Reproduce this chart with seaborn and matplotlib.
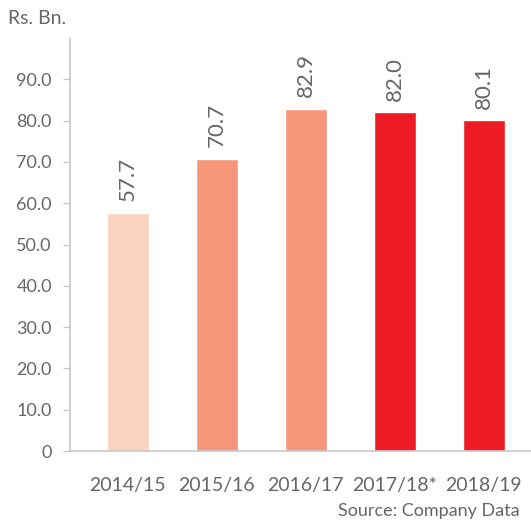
import matplotlib
matplotlib.use('Agg')
import matplotlib.pyplot as plt
import seaborn as sns
import pandas as pd

years = ['2014/15', '2015/16', '2016/17', '2017/18*', '2018/19']
values = [57.7, 70.7, 82.9, 82.0, 80.1]
colors = ['#FBD1BF', '#F7977A', '#F7977A', '#ED1C24', '#ED1C24']
yticks = [0, 10, 20, 30, 40, 50, 60, 70, 80, 90]
ytick_labels = ['0', '10.0', '20.0', '30.0', '40.0', '50.0', '60.0', '70.0', '80.0', '90.0']

sns.set_style('white')
plt.rcParams['font.family'] = ['Lato', 'DejaVu Sans']

df = pd.DataFrame({'year': years, 'value': values})

fig = plt.figure(figsize=(5.31, 5.21), dpi=100)
ax = fig.add_axes([70 / 531, 70 / 521, 461 / 531, 413 / 521])

sns.barplot(data=df, x='year', y='value', hue='year', palette=colors,
            width=0.47, legend=False, ax=ax, saturation=1)

grey = '#666666'
for i, v in enumerate(values):
    ax.text(i, v + 2.8, f'{v:.1f}', rotation=90, ha='center', va='bottom',
            fontsize=16, color=grey)

ax.set_ylim(0, 100)
ax.set_xlim(-0.65, 4.53)
ax.set_yticks(yticks)
ax.set_yticklabels(ytick_labels)
ax.set_xlabel('')
ax.set_ylabel('')

for s in ['top', 'right']:
    ax.spines[s].set_visible(False)
ax.spines['left'].set_color('#C8C8C8')
ax.spines['bottom'].set_color('#C8C8C8')
ax.spines['left'].set_linewidth(1.2)
ax.spines['bottom'].set_linewidth(1.2)

ax.tick_params(axis='y', length=5, width=1, color='#C8C8C8', labelsize=13,
               labelcolor=grey, pad=8, left=True)
ax.tick_params(axis='x', length=0, labelsize=14, labelcolor=grey, pad=19)

fig.text(8 / 531, 1 - 18 / 521, 'Rs. Bn.', fontsize=14, color=grey, va='center')
fig.text(520 / 531, 1 - 511 / 521, 'Source: Company Data', fontsize=13,
         color=grey, ha='right', va='center')

fig.savefig('out.png', dpi=100)
